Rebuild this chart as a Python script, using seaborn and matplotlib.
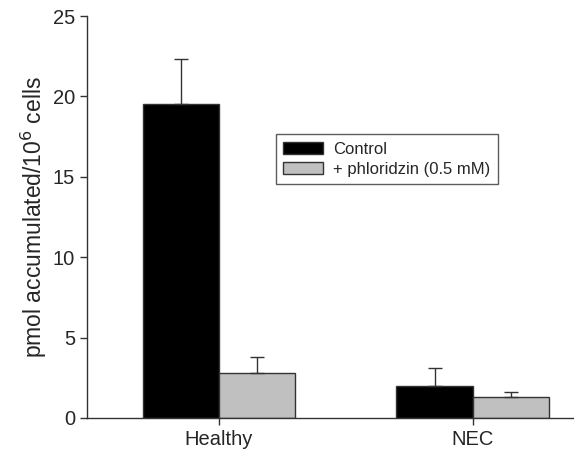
import numpy as np
import pandas as pd
import seaborn as sns
import matplotlib
matplotlib.use('Agg')
import matplotlib.pyplot as plt

groups = ['Healthy', 'NEC']
treatments = ['Control', '+ phloridzin (0.5 mM)']
control_vals = [19.5, 2.0]
control_err = [2.8, 1.1]
phlor_vals = [2.8, 1.3]
phlor_err = [1.0, 0.3]

df = pd.DataFrame({
    'group': groups * 2,
    'treatment': [treatments[0]] * 2 + [treatments[1]] * 2,
    'value': control_vals + phlor_vals,
})
errs = control_err + phlor_err

sns.set_style('ticks')
plt.rcParams['font.family'] = ['Liberation Sans', 'DejaVu Sans']

fig = plt.figure(figsize=(5.74, 4.63), dpi=100)
ax = fig.add_axes([0.1516, 0.0972, 0.8484, 0.8682])

sns.barplot(data=df, x='group', y='value', hue='treatment', ax=ax,
            palette=['#000000', '#c0c0c0'], errorbar=None, width=0.6,
            edgecolor='#333333', linewidth=1.0, saturation=1)

# upward-only error bars placed on the bar patches
bars = [p for p in ax.patches if p.get_height() > 0][:4]
for p, e in zip(bars, errs):
    cx = p.get_x() + p.get_width() / 2
    ax.errorbar(cx, p.get_height(), yerr=[[0], [e]], fmt='none',
                ecolor='#333333', elinewidth=1.0, capsize=5, capthick=1.0)

ax.set_xlim(-0.52, 1.4)
ax.set_ylim(0, 25)
ax.set_yticks([0, 5, 10, 15, 20, 25])
ax.set_xlabel('')
ax.set_ylabel('pmol accumulated/10$^6$ cells', fontsize=16.5, labelpad=3)
ax.tick_params(axis='both', labelsize=14.5, color='#333333', length=5, width=1)
for s in ['top', 'right']:
    ax.spines[s].set_visible(False)
for s in ['left', 'bottom']:
    ax.spines[s].set_color('#333333')
    ax.spines[s].set_linewidth(1.0)

leg = ax.legend(loc='upper left', bbox_to_anchor=(0.388, 0.706), fontsize=12,
                frameon=True, fancybox=False, edgecolor='#333333',
                borderaxespad=0, handlelength=2.4, handleheight=0.75,
                borderpad=0.45, labelspacing=0.3, handletextpad=0.6)
leg.get_frame().set_linewidth(1.0)
leg.set_title(None)

fig.savefig('out.png', dpi=100)
